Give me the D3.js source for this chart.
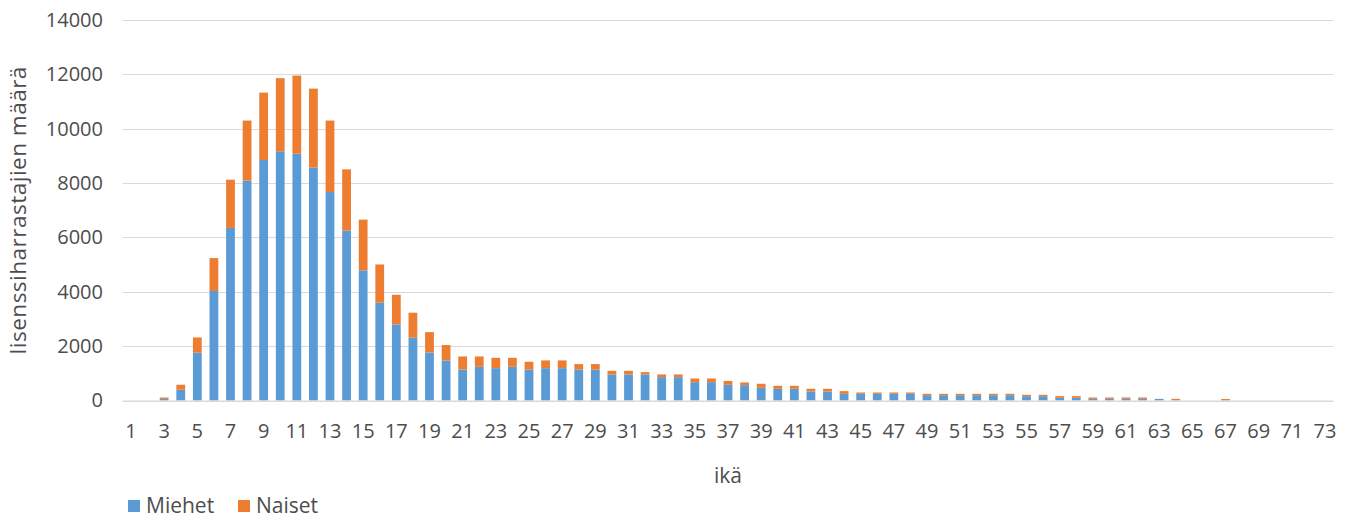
<!DOCTYPE html>
<html>
<head>
<meta charset="utf-8">
<script src="https://cdn.jsdelivr.net/npm/d3@7"></script>
<style>
  html, body { margin: 0; padding: 0; background: #ffffff; }
  svg { display: block; }
  text { font-family: "Open Sans", "Noto Sans", sans-serif; fill: #4d4d4d; }
</style>
</head>
<body>
<svg id="chart" width="1357" height="520"></svg>
<script>
// Ages 1–73
const ages = d3.range(1, 74);

// Licence holders per age, men
const miehet = [
  0, 0, 60, 395, 1760, 4030, 6350, 8090, 8850, 9170,
  9080, 8570, 7670, 6250, 4790, 3600, 2800, 2310, 1765, 1475,
  1140, 1240, 1190, 1240, 1140, 1190, 1190, 1140, 1140, 957,
  957, 957, 860, 860, 675, 675, 577, 565, 466, 430,
  430, 331, 331, 245, 245, 245, 245, 245, 196, 196,
  196, 196, 196, 196, 160, 160, 98, 98, 61, 61,
  61, 61, 55, 0, 0, 0, 0, 0, 0, 0,
  0, 0, 0
];

// Licence holders per age, women
const naiset = [
  0, 0, 50, 185, 560, 1210, 1775, 2210, 2480, 2690,
  2875, 2905, 2630, 2255, 1865, 1405, 1090, 920, 750, 565,
  480, 380, 380, 330, 285, 285, 285, 200, 200, 135,
  135, 85, 100, 100, 135, 135, 145, 100, 150, 110,
  110, 100, 100, 100, 50, 50, 50, 50, 50, 50,
  50, 50, 50, 50, 50, 50, 62, 62, 50, 50,
  50, 50, 5, 60, 0, 0, 55, 0, 0, 0,
  0, 0, 0
];

const yTicks = [0, 2000, 4000, 6000, 8000, 10000, 12000, 14000];
const seriesNames = ["Miehet", "Naiset"];
const colors = { Miehet: "#5B9BD5", Naiset: "#ED7D31" };
const textColor = "#4d4d4d";

const rows = ages.map((a, i) => ({ age: a, Miehet: miehet[i], Naiset: naiset[i] }));
const stacked = d3.stack().keys(seriesNames)(rows);

const svg = d3.select("#chart");
const plot = { left: 122.7, right: 1333.3, top: 20, bottom: 400.5 };

const x = d3.scaleBand()
  .domain(ages)
  .range([plot.left, plot.right])
  .paddingInner(0.47)
  .paddingOuter(0.235);

const y = d3.scaleLinear()
  .domain([0, 14000])
  .range([plot.bottom, plot.top]);

// Horizontal gridlines
svg.append("g")
  .selectAll("line")
  .data(yTicks)
  .join("line")
  .attr("x1", plot.left)
  .attr("x2", plot.right)
  .attr("y1", d => Math.round(y(d)) + 0.5)
  .attr("y2", d => Math.round(y(d)) + 0.5)
  .attr("stroke", "#d9d9d9")
  .attr("stroke-width", 1.2);

// Y axis labels, plain integers without separators
const yAxis = d3.axisLeft(y)
  .tickValues(yTicks)
  .tickFormat(d3.format("d"))
  .tickSize(0)
  .tickPadding(0);
svg.append("g")
  .attr("transform", "translate(103,0)")
  .call(yAxis)
  .call(g => g.select(".domain").remove())
  .call(g => g.selectAll("text")
    .attr("font-size", 20)
    .attr("font-family", "'Open Sans', sans-serif")
    .attr("fill", textColor));

// Stacked bars
svg.append("g")
  .selectAll("g")
  .data(stacked)
  .join("g")
  .attr("fill", d => colors[d.key])
  .selectAll("rect")
  .data(d => d)
  .join("rect")
  .attr("x", d => x(d.data.age))
  .attr("width", x.bandwidth())
  .attr("y", d => y(d[1]))
  .attr("height", d => Math.max(0, y(d[0]) - y(d[1])));

// X axis (every second age labelled)
const xAxis = d3.axisBottom(x)
  .tickValues(ages.filter(a => a % 2 === 1))
  .tickSize(0)
  .tickPadding(0);
svg.append("g")
  .attr("transform", `translate(0,${plot.bottom})`)
  .call(xAxis)
  .call(g => g.select(".domain")
    .attr("stroke", "#d9d9d9")
    .attr("stroke-width", 1.2)
    .attr("d", `M${plot.left},0.5H${plot.right}`))
  .call(g => g.selectAll("text")
    .attr("y", 23)
    .attr("font-size", 20)
    .attr("font-family", "'Open Sans', sans-serif")
    .attr("fill", textColor));

// Axis titles
svg.append("text")
  .attr("transform", `translate(26,${(plot.top + plot.bottom) / 2}) rotate(-90)`)
  .attr("text-anchor", "middle")
  .attr("font-size", 22.5)
  .attr("letter-spacing", 0.5)
  .text("lisenssiharrastajien määrä");

svg.append("text")
  .attr("x", (plot.left + plot.right) / 2)
  .attr("y", 483)
  .attr("text-anchor", "middle")
  .attr("font-size", 21)
  .text("ikä");

// Legend
const legend = svg.append("g").attr("transform", "translate(128,500)");
const legendItems = legend.selectAll("g")
  .data(seriesNames)
  .join("g")
  .attr("transform", (d, i) => `translate(${i * 110},0)`);
legendItems.append("rect")
  .attr("width", 12)
  .attr("height", 12)
  .attr("fill", d => colors[d]);
legendItems.append("text")
  .attr("x", 18)
  .attr("y", 13)
  .attr("font-size", 21)
  .text(d => d);
</script>
</body>
</html>
